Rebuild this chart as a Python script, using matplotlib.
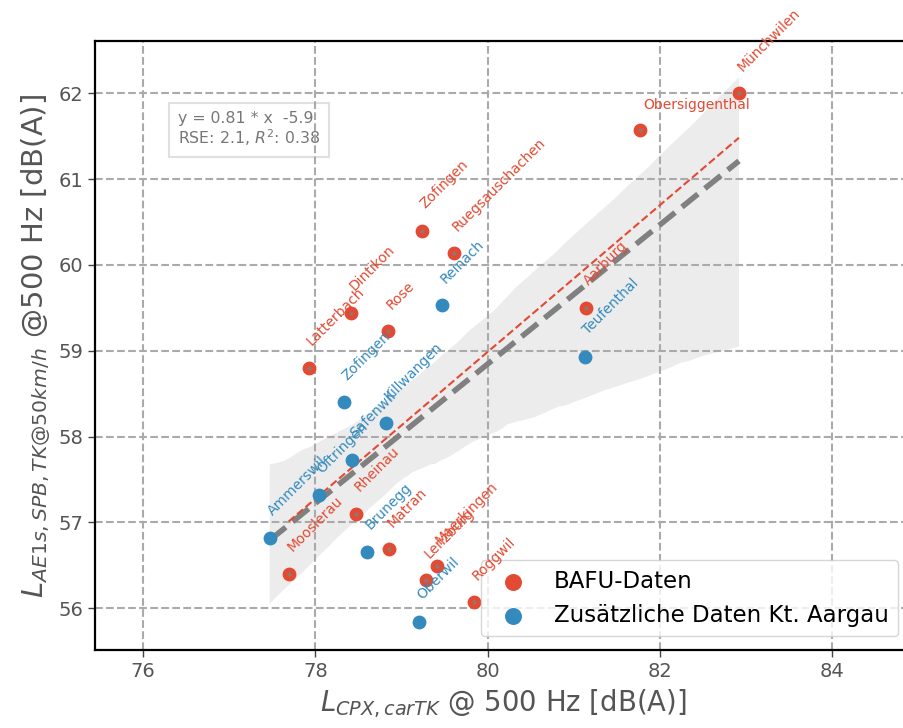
import numpy as np
import seaborn as sns
from matplotlib import pyplot as plt

# BAFU measurement sites
bafu_names = ['Münchwilen', 'Obersiggenthal', 'Zofingen', 'Ruegsauschachen', 'Dintikon',
              'Rose', 'Latterbach', 'Aarburg', 'Rheinau', 'Mooslerau', 'Matran',
              'Maerkingen', 'Lenzburg', 'Roggwil']
bafu_x = [82.92, 81.77, 79.24, 79.61, 78.41, 78.84, 77.92, 81.14, 78.47, 77.69, 78.86,
          79.41, 79.28, 79.84]
bafu_y = [62.00, 61.57, 60.40, 60.14, 59.44, 59.23, 58.80, 59.50, 57.10, 56.40, 56.69,
          56.49, 56.33, 56.07]

# additional sites canton Aargau
ag_names = ['Reinach', 'Teufenthal', 'Zofingen', 'Killwangen', 'Safenwil', 'Oftringen',
            'Ammerswil', 'Brunegg', 'Oberwil']
ag_x = [79.47, 81.13, 78.33, 78.82, 78.42, 78.04, 77.47, 78.60, 79.20]
ag_y = [59.53, 58.93, 58.40, 58.16, 57.73, 57.32, 56.82, 56.66, 55.84]

fit_text = 'y = 0.81 * x  -5.9\nRSE: 2.1, $R^2$: 0.38'

red = '#E24A33'
blue = '#348ABD'
txt_gray = '#555555'

fig = plt.figure(figsize=(9.04, 7.28), dpi=100)
ax = fig.add_axes([95 / 904, 78 / 728, 817 / 904, 609 / 728])

all_x = np.array(bafu_x + ag_x)
all_y = np.array(bafu_y + ag_y)

ax.scatter(bafu_x, bafu_y, s=80, color=red, zorder=3, label='BAFU-Daten')
sns.regplot(x=all_x, y=all_y, ax=ax, color='gray', seed=3,
            scatter_kws=dict(s=9, linewidths=0, zorder=4),
            line_kws=dict(ls='--', lw=4, zorder=2))
ax.scatter(ag_x, ag_y, s=80, color=blue, zorder=5, label='Zusätzliche Daten Kt. Aargau')
sns.regplot(x=np.array(bafu_x), y=np.array(bafu_y), ax=ax, scatter=False, ci=None,
            color=red, line_kws=dict(ls='--', lw=1.5, zorder=2.5))

# site labels
for names, xs, ys, c in [(bafu_names, bafu_x, bafu_y, red), (ag_names, ag_x, ag_y, blue)]:
    for n, x, y in zip(names, xs, ys):
        rot = 0 if n == 'Obersiggenthal' else 45
        ax.annotate(n, (x, y), xytext=(2.5, 15.5), textcoords='offset points',
                    rotation=rot, rotation_mode='anchor', ha='left', va='baseline',
                    fontsize=10, color=c, zorder=6)

ax.text(0.1015, 0.885, fit_text, transform=ax.transAxes, fontsize=11.3, color='#777777',
        va='top', ha='left', linespacing=1.1, zorder=1,
        bbox=dict(boxstyle='square,pad=0.55', fc='white', ec='#cccccc', lw=1.5, alpha=0.6))

ax.set_xlim(75.44, 84.93)
ax.set_ylim(55.514, 62.609)
ax.set_xticks([76, 78, 80, 82, 84])
ax.set_yticks([56, 57, 58, 59, 60, 61, 62])
ax.grid(True, ls='--', lw=1.5, color='#aaaaaa')
ax.tick_params(labelsize=14, labelcolor=txt_gray, color='#444444', length=5, width=1)

for s in ['left', 'top', 'bottom']:
    ax.spines[s].set_linewidth(1.6)
    ax.spines[s].set_color('black')
ax.spines['right'].set_visible(False)

ax.set_xlabel('$L_{CPX, carTK}$ @ 500 Hz [dB(A)]', fontsize=19.8, color=txt_gray, labelpad=5)
ax.set_ylabel('$L_{AE1s, SPB, TK@50km/h}$ @500 Hz [dB(A)]', fontsize=21, color=txt_gray,
              labelpad=4)

ax.legend(loc='lower right', fontsize=16.5, markerscale=1.25, borderaxespad=0.6)

fig.savefig('out.png', dpi=100)
